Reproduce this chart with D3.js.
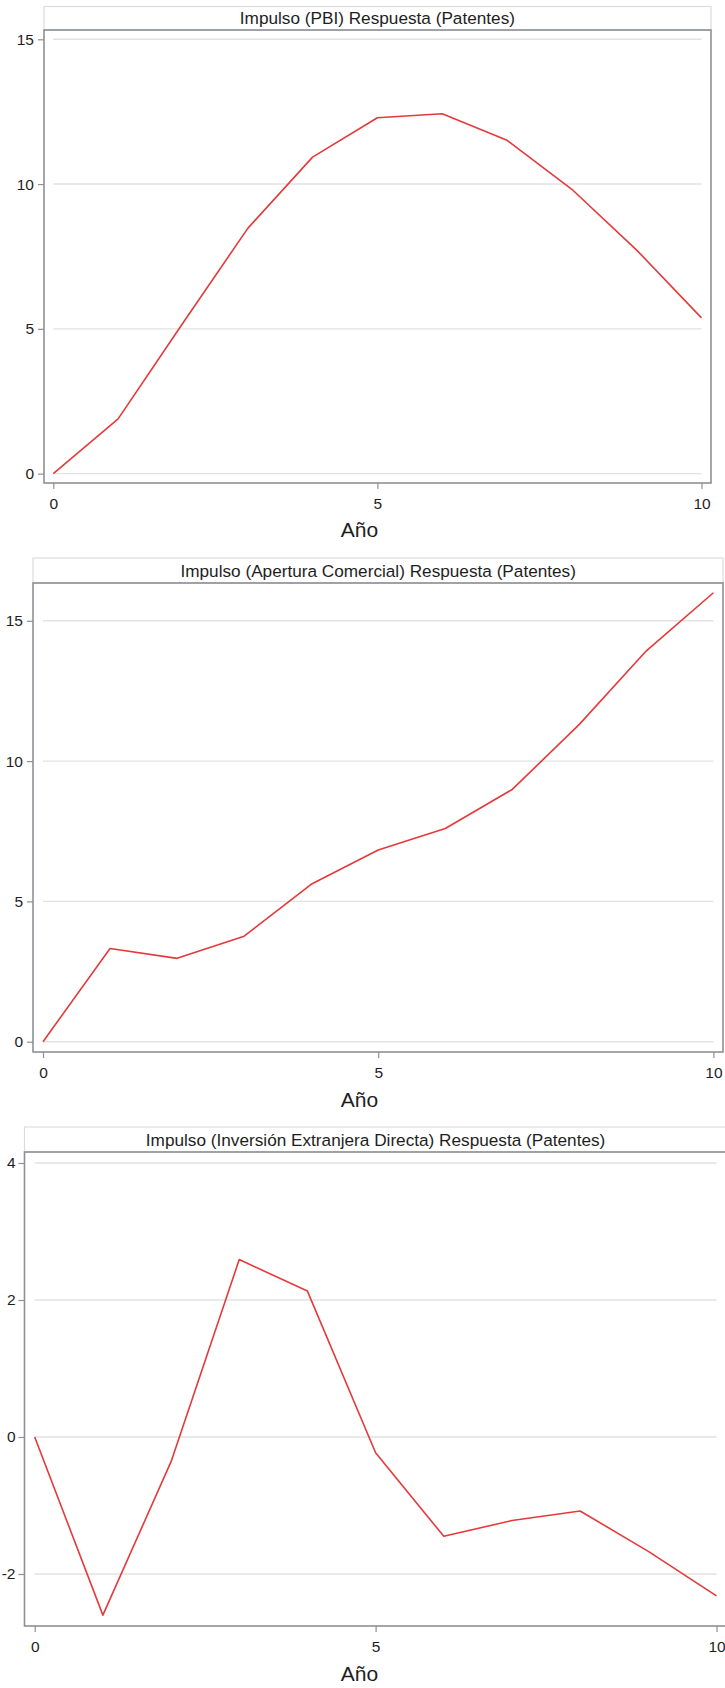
<!DOCTYPE html>
<html>
<head>
<meta charset="utf-8">
<script src="https://cdn.jsdelivr.net/npm/d3@7"></script>
<style>
  html, body { margin: 0; padding: 0; background: #fff; }
  svg { display: block; }
  text { font-family: "Liberation Sans", Arial, sans-serif; fill: #1e1e1e; }
</style>
</head>
<body>
<svg id="chart" width="725" height="1688"></svg>
<script>
// ---- Data ----
const years = [0, 1, 2, 3, 4, 5, 6, 7, 8, 9, 10];
const pbiResp = [0, 1.89, 5.2, 8.47, 10.93, 12.29, 12.43, 11.51, 9.82, 7.72, 5.38];
const aperturaResp = [0, 3.32, 2.97, 3.76, 5.61, 6.83, 7.60, 8.99, 11.31, 13.93, 16.0];
const iedResp = [0, -2.60, -0.36, 2.59, 2.13, -0.23, -1.45, -1.22, -1.08, -1.67, -2.32];
const titles = [
  "Impulso (PBI) Respuesta (Patentes)",
  "Impulso (Apertura Comercial) Respuesta (Patentes)",
  "Impulso (Inversión Extranjera Directa) Respuesta (Patentes)"
];
const yTicks1 = [0, 5, 10, 15];
const yTicks2 = [0, 5, 10, 15];
const yTicks3 = [-2, 0, 2, 4];
const xTicks = [0, 5, 10];
const xLabel = "Año";

// ---- Layout (positions only) ----
const layouts = [
  { left: 44, right: 711, top: 30, bottom: 483, titleTop: 6.5, x0: 53.3, x1: 701.5,
    yDom: [0, 15], yRng: [473.6, 39.3], labelY: 537, yPad: 4 },
  { left: 33, right: 723, top: 583, bottom: 1052, titleTop: 558, x0: 43, x1: 713.4,
    yDom: [0, 15], yRng: [1041.7, 620.8], labelY: 1107, yPad: 4 },
  { left: 24.5, right: 728, top: 1152, bottom: 1626, titleTop: 1127, x0: 34.7, x1: 716.5,
    yDom: [0, 4], yRng: [1437, 1163], labelY: 1681, yPad: 3 }
];

const panels = [
  { values: pbiResp, title: titles[0], yTicks: yTicks1 },
  { values: aperturaResp, title: titles[1], yTicks: yTicks2 },
  { values: iedResp, title: titles[2], yTicks: yTicks3 }
];

const svg = d3.select("#chart");
const frameColor = "#8d9096";
const gridColor = "#e2e2e2";
const lineColor = "#e5393a";
const fmt = d => String(d);

panels.forEach((p, i) => {
  const L = layouts[i];
  const x = d3.scaleLinear().domain([0, 10]).range([L.x0, L.x1]);
  const y = d3.scaleLinear().domain(L.yDom).range(L.yRng);
  const g = svg.append("g");

  // title box
  g.append("rect")
    .attr("x", L.left).attr("y", L.titleTop)
    .attr("width", L.right - L.left).attr("height", L.top - L.titleTop)
    .attr("fill", "#fff").attr("stroke", "#dcdcdc").attr("stroke-width", 1.2);
  g.append("text")
    .attr("x", (L.x0 + L.x1) / 2)
    .attr("y", (L.titleTop + L.top) / 2)
    .attr("dy", "0.36em")
    .attr("text-anchor", "middle")
    .style("font-size", "17.2px")
    .text(p.title);

  // gridlines
  g.append("g").selectAll("line").data(p.yTicks).join("line")
    .attr("x1", x(0)).attr("x2", x(10))
    .attr("y1", d => y(d)).attr("y2", d => y(d))
    .attr("stroke", gridColor).attr("stroke-width", 1.4);

  // frame
  g.append("rect")
    .attr("x", L.left).attr("y", L.top)
    .attr("width", L.right - L.left).attr("height", L.bottom - L.top)
    .attr("fill", "none").attr("stroke", frameColor).attr("stroke-width", 1.6);

  // axes
  const yAxis = d3.axisLeft(y).tickValues(p.yTicks).tickFormat(fmt)
    .tickSize(6).tickPadding(L.yPad);
  const ya = g.append("g").attr("transform", `translate(${L.left},0)`).call(yAxis);
  const xAxis = d3.axisBottom(x).tickValues(xTicks).tickFormat(fmt)
    .tickSize(6).tickPadding(8.5);
  const xa = g.append("g").attr("transform", `translate(0,${L.bottom})`).call(xAxis);
  [ya, xa].forEach(a => {
    a.select(".domain").remove();
    a.selectAll(".tick line").attr("stroke", frameColor).attr("stroke-width", 1.2);
    a.selectAll(".tick text")
      .style("font-size", "15.5px")
      .style("font-family", "'Liberation Sans', Arial, sans-serif")
      .attr("fill", "#1e1e1e");
  });

  // axis label
  g.append("text")
    .attr("x", 359.5).attr("y", L.labelY)
    .attr("text-anchor", "middle")
    .style("font-size", "21px")
    .text(xLabel);

  // line
  const line = d3.line().x((d, j) => x(years[j])).y(d => y(d));
  g.append("path")
    .datum(p.values)
    .attr("d", line)
    .attr("fill", "none")
    .attr("stroke", lineColor)
    .attr("stroke-width", 1.6)
    .attr("stroke-linejoin", "round");
});
</script>
</body>
</html>
